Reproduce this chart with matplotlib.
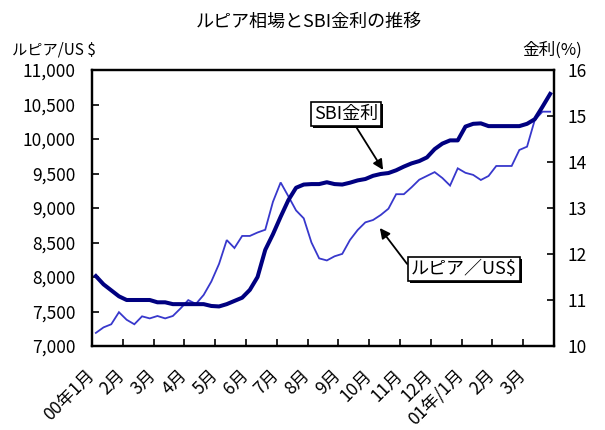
import matplotlib
matplotlib.use("Agg")
import matplotlib.pyplot as plt
import numpy as np
from matplotlib.ticker import FuncFormatter, MultipleLocator
from matplotlib import patheffects as pe
from matplotlib.transforms import ScaledTranslation

plt.rcParams['font.family'] = ['Liberation Sans Narrow', 'Noto Sans CJK JP', 'DejaVu Sans']

# Month category labels (weekly observations, four per month)
month_labels = ["00年1月", "2月", "3月", "4月", "5月", "6月", "7月", "8月",
                "9月", "10月", "11月", "12月", "01年/1月", "2月", "3月"]

# Rupiah per US dollar
rupiah = [7190, 7270, 7315, 7490, 7380, 7315, 7430, 7400, 7435, 7400,
          7435, 7545, 7665, 7610, 7740, 7935, 8190, 8535, 8420, 8595,
          8595, 8645, 8685, 9090, 9370, 9170, 8965, 8850, 8500, 8270,
          8240, 8300, 8335, 8536, 8681, 8792, 8826, 8899, 8990, 9200,
          9200, 9300, 9410, 9465, 9520, 9435, 9325, 9575, 9510, 9480,
          9406, 9464, 9609, 9609, 9609, 9841, 9889, 10275, 10396, 10396]

# SBI rate (%)
sbi = [11.52, 11.34, 11.21, 11.08, 11.00, 11.00, 11.00, 11.00, 10.95, 10.95,
       10.91, 10.91, 10.91, 10.91, 10.91, 10.87, 10.86, 10.91, 10.98, 11.05,
       11.22, 11.50, 12.09, 12.43, 12.81, 13.17, 13.44, 13.51, 13.52, 13.52,
       13.56, 13.52, 13.51, 13.55, 13.60, 13.63, 13.70, 13.74, 13.76, 13.82,
       13.90, 13.97, 14.02, 14.10, 14.28, 14.40, 14.47, 14.47, 14.77, 14.83,
       14.84, 14.78, 14.78, 14.78, 14.78, 14.78, 14.83, 14.93, 15.20, 15.48]

points_per_month = 4
x = (np.arange(len(rupiah)) + 0.5) / points_per_month

fig = plt.figure(figsize=(6.05, 4.3), dpi=100)
ax = fig.add_axes([92 / 605, 1 - 346 / 430, 462 / 605, 276 / 430])
ax2 = ax.twinx()

ax.plot(x, rupiah, color="#3838CC", lw=1.3, solid_joinstyle="miter")
ax2.plot(x, sbi, color="#000080", lw=2.9, solid_joinstyle="round")

ax.set_xlim(0, len(month_labels))
ax.set_ylim(7000, 11000)
ax2.set_ylim(10, 16)

ax.yaxis.set_major_locator(MultipleLocator(500))
ax.yaxis.set_major_formatter(FuncFormatter(lambda v, _: f"{v:,.0f}"))
ax2.yaxis.set_major_locator(MultipleLocator(1))
ax2.yaxis.set_major_formatter(FuncFormatter(lambda v, _: f"{v:.0f}"))

ax.set_xticks(np.arange(len(month_labels) + 1))
ax.set_xticklabels([])
ax.tick_params(axis="x", direction="in", length=5, width=1.2)
ax.tick_params(axis="y", direction="in", length=5, width=1.2, pad=12, labelsize=12.5)
ax2.tick_params(axis="y", direction="in", length=5, width=1.2, pad=10, labelsize=12.5)

for a in (ax, ax2):
    for s in a.spines.values():
        s.set_linewidth(1.6)

# Rotated month labels
lab_trans = ax.get_xaxis_transform() + ScaledTranslation(0.06, -0.20, fig.dpi_scale_trans)
for i, lab in enumerate(month_labels):
    ax.text(i, 0, lab, transform=lab_trans, rotation=45, ha="right", va="top",
            fontsize=12.5)

# Callouts
def callout(axis, text, tip, box, relpos):
    t = axis.annotate(text, xy=tip, xycoords="axes fraction", xytext=box,
                      textcoords="axes fraction", ha="center", va="center",
                      fontsize=13,
                      bbox=dict(boxstyle="square,pad=0.18", fc="white", ec="black", lw=1.2),
                      arrowprops=dict(arrowstyle="-|>", color="black", lw=1.3,
                                      mutation_scale=15, shrinkA=0, shrinkB=0,
                                      relpos=relpos))
    t.get_bbox_patch().set_path_effects([
        pe.SimplePatchShadow(offset=(1.5, -1.5), shadow_rgbFace="black", alpha=1),
        pe.Normal()])
    return t

callout(ax2, "SBI金利", (0.63, 0.638), (0.55, 0.84), (0.62, 0.0))
callout(ax2, "ルピア／US$", (0.623, 0.4275), (0.805, 0.279), (0.0, 0.5))

fig.text(309 / 605, 1 - 22 / 430, "ルピア相場とSBI金利の推移", ha="center", va="center", fontsize=13)
fig.text(12 / 605, 1 - 50 / 430, "ルピア/US $", ha="left", va="center", fontsize=11)
fig.text(582 / 605, 1 - 50 / 430, "金利(%)", ha="right", va="center", fontsize=12)

fig.savefig("out.png", dpi=100)
